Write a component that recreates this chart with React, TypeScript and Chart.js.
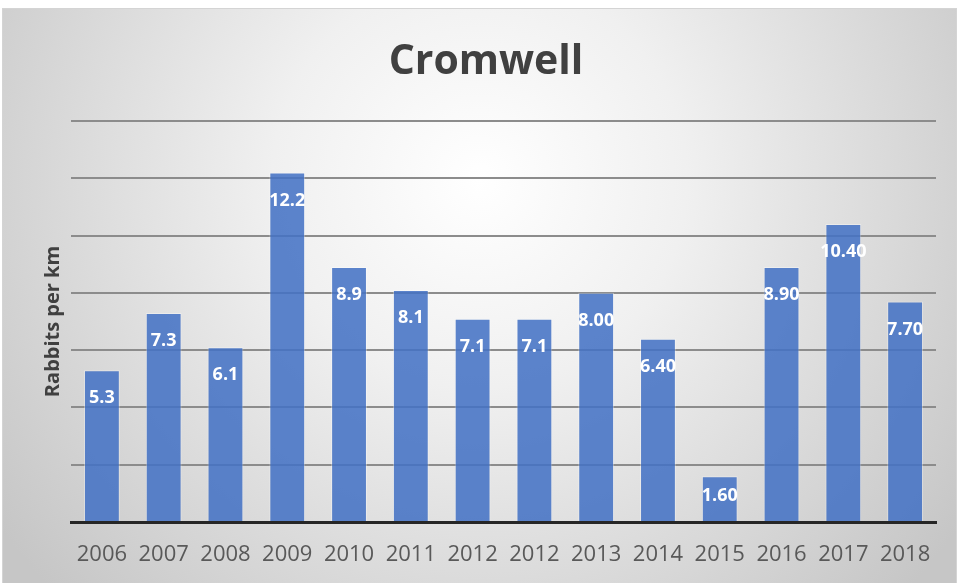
import React, { useEffect, useRef } from "react";
import { Chart, registerables } from "chart.js";

Chart.register(...registerables);

const years = ["2006", "2007", "2008", "2009", "2010", "2011", "2012", "2012", "2013", "2014", "2015", "2016", "2017", "2018"];
const rabbits = [5.3, 7.3, 6.1, 12.2, 8.9, 8.1, 7.1, 7.1, 8.0, 6.4, 1.6, 8.9, 10.4, 7.7];
const valueLabels = ["5.3", "7.3", "6.1", "12.2", "8.9", "8.1", "7.1", "7.1", "8.00", "6.40", "1.60", "8.90", "10.40", "7.70"];
const yMin = 0;
const yMax = 14;
const yStep = 2;

const FONT = "'Open Sans', 'Liberation Sans', sans-serif";

const backgroundPlugin = {
  id: "bgGradient",
  beforeDraw(chart: any) {
    const { ctx, width, height } = chart;
    ctx.save();
    const g = ctx.createRadialGradient(width / 2, height * 0.3, 0, width / 2, height * 0.3, width * 0.62);
    g.addColorStop(0, "#ffffff");
    g.addColorStop(0.35, "#f0f0f0");
    g.addColorStop(1, "#c6c6c6");
    ctx.fillStyle = g;
    ctx.fillRect(0, 0, width, height);
    ctx.strokeStyle = "#d4d4d4";
    ctx.lineWidth = 1;
    ctx.strokeRect(0.5, 0.5, width - 1, height + 2);
    ctx.restore();
  },
};

const valueLabelPlugin = {
  id: "valueLabels",
  afterDatasetsDraw(chart: any) {
    const { ctx } = chart;
    const meta = chart.getDatasetMeta(0);
    ctx.save();
    ctx.font = `bold 18px ${FONT}`;
    ctx.fillStyle = "#ffffff";
    ctx.textAlign = "center";
    ctx.textBaseline = "middle";
    meta.data.forEach((bar: any, i: number) => {
      const top = bar.y;
      const base = bar.base;
      const y = Math.min(top + 28, (top + base) / 2 - 3);
      ctx.fillText(valueLabels[i], bar.x, y);
    });
    ctx.restore();
  },
};

export default function App() {
  const ref = useRef<HTMLCanvasElement | null>(null);

  useEffect(() => {
    if (!ref.current) return;
    const chart = new Chart(ref.current, {
      type: "bar",
      data: {
        labels: years,
        datasets: [
          {
            data: rabbits,
            backgroundColor: "rgba(68,114,196,0.87)",
            borderColor: "rgba(255,255,255,0.35)",
            borderWidth: 1,
            barPercentage: 0.58,
            categoryPercentage: 1,
          },
        ],
      },
      options: {
        animation: false,
        responsive: false,
        devicePixelRatio: 1,
        layout: { padding: { left: 34, right: 21, top: 0, bottom: 0 } },
        plugins: {
          legend: { display: false },
          tooltip: { enabled: false },
          title: {
            display: true,
            text: "Cromwell",
            color: "#404040",
            font: { family: FONT, size: 41, weight: "bold", lineHeight: 1.2 },
            padding: { top: 29.6, bottom: 34.2 },
          },
        },
        scales: {
          x: {
            grid: { display: false, drawTicks: false },
            border: { display: true, color: "#262626", width: 3 },
            ticks: {
              color: "#595959",
              font: { family: FONT, size: 22 },
              padding: 20,
              maxRotation: 0,
              autoSkip: false,
            },
            afterFit(scale: any) {
              scale.height = 61;
            },
          },
          y: {
            min: yMin,
            max: yMax,
            ticks: { display: false, stepSize: yStep },
            grid: { color: "#8c8c8c", lineWidth: 2, drawTicks: false },
            border: { display: false },
            title: {
              display: true,
              text: "Rabbits per km",
              color: "#404040",
              font: { family: FONT, size: 20, weight: "bold", lineHeight: 1.2 },
              padding: { top: 5, bottom: 0 },
            },
            afterFit(scale: any) {
              scale.width = 35;
            },
          },
        },
      },
      plugins: [backgroundPlugin, valueLabelPlugin],
    });
    return () => chart.destroy();
  }, []);

  return (
    <canvas
      ref={ref}
      width={955}
      height={575}
      style={{ position: "fixed", left: 2, top: 8, width: 955, height: 575 }}
    />
  );
}
